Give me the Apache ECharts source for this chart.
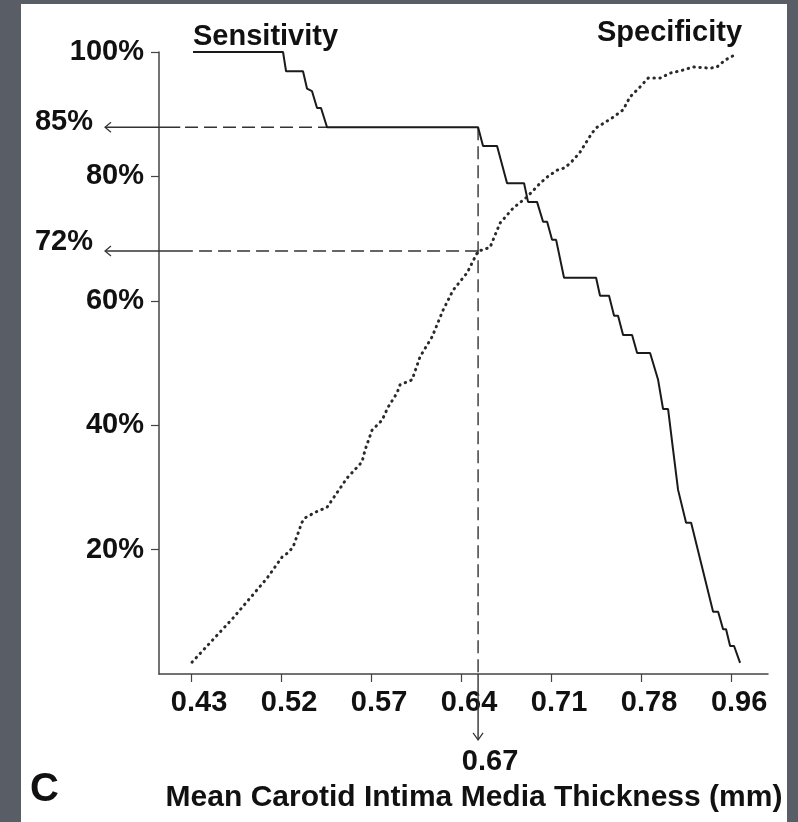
<!DOCTYPE html>
<html>
<head>
<meta charset="utf-8">
<script src="https://cdn.jsdelivr.net/npm/echarts@6/dist/echarts.min.js"></script>
<style>
  html, body { margin: 0; padding: 0; }
  body { width: 798px; height: 822px; background: #595d66; position: relative; overflow: hidden; }
  #chart { position: absolute; left: 21px; top: 4px; width: 766px; height: 818px; background: #fff; }
</style>
</head>
<body>
<div id="chart"></div>
<script>
// x is in tick units: 0 -> 0.43, 1 -> 0.52 ... 6 -> 0.96 (ticks are evenly spaced)
var xTickLabels = ['0.43', '0.52', '0.57', '0.64', '0.71', '0.78', '0.96'];
var xTickValues = [0, 1, 2, 3, 4, 5, 6];
var yTickValues = [20, 40, 60, 80, 100];

var sensitivityX = [0.022, 1.022, 1.056, 1.244, 1.289, 1.344, 1.4, 1.444, 1.511, 3.189, 3.244, 3.4, 3.511, 3.7, 3.744, 3.844,
  3.911, 3.956, 4.011, 4.056, 4.144, 4.5, 4.544, 4.644, 4.7, 4.744, 4.8, 4.9, 4.956, 5.1, 5.189, 5.244, 5.3, 5.356,
  5.411, 5.5, 5.556, 5.8, 5.856, 5.911, 5.944, 5.989, 6.033, 6.1];
var sensitivityY = [100, 100, 96.9, 96.9, 94.1, 93.7, 91.0, 91.0, 87.9, 87.9, 84.9, 84.9, 78.9, 78.9, 75.9, 75.9,
  72.7, 72.7, 69.8, 69.8, 63.7, 63.7, 60.8, 60.8, 57.6, 57.6, 54.5, 54.5, 51.6, 51.6, 47.3, 42.6, 42.6, 36.0,
  29.6, 24.3, 24.3, 10.0, 10.0, 7.2, 7.2, 4.5, 4.5, 1.8];

var specificityX = [0.011, 0.467, 0.844, 1.011, 1.078, 1.133, 1.233, 1.267, 1.378, 1.511, 1.733, 1.9, 1.933, 2.011,
  2.122, 2.189, 2.289, 2.322, 2.456, 2.544, 2.678, 2.8, 2.911, 3.067, 3.189, 3.244, 3.322, 3.433, 3.578, 3.733,
  3.878, 3.956, 4.067, 4.156, 4.244, 4.322, 4.456, 4.511, 4.689, 4.8, 4.878, 4.989, 5.078, 5.211, 5.322, 5.467,
  5.578, 5.767, 5.844, 5.933, 6.022];
var specificityY = [1.9, 9.0, 15.4, 18.8, 19.5, 20.4, 24.4, 25.1, 26.0, 26.8, 31.5, 34.1, 36.0, 39.2,
  40.8, 42.9, 45.2, 46.5, 47.3, 51.0, 54.2, 58.5, 61.7, 64.5, 68.0, 68.2, 68.6, 72.5, 74.9, 76.7,
  78.9, 79.9, 81.0, 81.4, 82.6, 83.9, 87.0, 87.9, 89.5, 90.7, 92.8, 94.4, 95.8, 95.8, 96.6, 97.1,
  97.6, 97.4, 97.6, 98.7, 99.4];

// cut-off annotation
var cutoffX = 3.189;
var sensAtCutoff = 87.9;
var specAtCutoff = 68.0;
var arrowTipX = -0.956;   // left arrow tips (outside the axis)
var arrowTipY = -10.6;    // down arrow tip (below the axis)

// segments: x1, y1, x2, y2, dashed
var guideSegments = [
  [arrowTipX, sensAtCutoff, -0.12, sensAtCutoff, 0],
  [-0.067, sensAtCutoff, sensitivityX[8], sensAtCutoff, 1],
  [arrowTipX, specAtCutoff, 0.02, specAtCutoff, 0],
  [0.089, specAtCutoff, cutoffX, specAtCutoff, 1],
  [cutoffX, sensAtCutoff, cutoffX, 0, 1],
  [cutoffX, 0, cutoffX, arrowTipY, 0]
];
var arrowPoints = [[arrowTipX, sensAtCutoff], [arrowTipX, specAtCutoff], [cutoffX, arrowTipY]];
var arrowDirs = ['left', 'left', 'down'];
var arrowLabels = ['85%', '72%', '0.67'];

var curveNames = ['Sensitivity', 'Specificity'];
var curveNamePoints = [
  [sensitivityX[0], sensitivityY[0]],
  [specificityX[specificityX.length - 1], specificityY[specificityY.length - 1]]
];

var FONT = "'Liberation Sans', Arial, Helvetica, sans-serif";
var INK = '#1a1a1a';
var ANN = '#333';
var TXT = '#111';

function pairs(xs, ys) {
  var out = [];
  for (var i = 0; i < xs.length; i++) out.push([xs[i], ys[i]]);
  return out;
}

function textEl(text, x, y, size, align, vAlign) {
  return {
    type: 'text',
    style: { text: text, x: x, y: y, fill: TXT, fontFamily: FONT, fontWeight: 'bold', fontSize: size,
      align: align, verticalAlign: vAlign }
  };
}

var chart = echarts.init(document.getElementById('chart'));
chart.setOption({
  animation: false,
  backgroundColor: '#ffffff',
  title: {
    text: 'C', left: 4, top: 761,
    textStyle: { fontFamily: FONT, fontWeight: 'bold', fontSize: 40, color: TXT }
  },
  grid: { left: 138, right: 19, top: 48, bottom: 148 },
  xAxis: {
    type: 'value', min: -0.356, max: 6.41,
    name: 'Mean Carotid Intima Media Thickness (mm)',
    nameLocation: 'middle', nameGap: 109,
    nameTextStyle: { fontFamily: FONT, fontWeight: 'bold', fontSize: 30, color: TXT, padding: [0, 0, 0, 21] },
    axisLine: { onZero: false, lineStyle: { color: '#444', width: 1.5 } },
    axisTick: { customValues: xTickValues, length: 8, lineStyle: { color: '#444', width: 1.2 } },
    axisLabel: {
      customValues: xTickValues, margin: 14, padding: [0, 0, 0, 16],
      formatter: function (v) { return xTickLabels[Math.round(v)]; },
      fontFamily: FONT, fontWeight: 'bold', fontSize: 29, color: TXT
    },
    splitLine: { show: false }
  },
  yAxis: {
    type: 'value', min: 0, max: 100,
    axisLine: { show: true, onZero: false, lineStyle: { color: '#444', width: 1.5 } },
    axisTick: { show: true, customValues: yTickValues, length: 8, lineStyle: { color: '#444', width: 1.2 } },
    axisLabel: {
      customValues: yTickValues, margin: 15, padding: [0, 0, 8, 0],
      formatter: function (v) { return v + '%'; },
      fontFamily: FONT, fontWeight: 'bold', fontSize: 29, color: TXT
    },
    splitLine: { show: false }
  },
  series: [
    {
      name: 'Sensitivity', type: 'line', data: pairs(sensitivityX, sensitivityY),
      symbol: 'none', lineStyle: { color: INK, width: 2 }, z: 4
    },
    {
      name: 'Specificity', type: 'line', data: pairs(specificityX, specificityY),
      symbol: 'none', lineStyle: { color: '#2a2a2a', width: 3, type: [0.5, 5.5], cap: 'round' }, z: 4
    },
    {
      // cut-off guide lines
      type: 'custom', silent: true, clip: false, z: 3,
      data: guideSegments,
      renderItem: function (params, api) {
        var a = api.coord([api.value(0), api.value(1)]);
        var b = api.coord([api.value(2), api.value(3)]);
        return {
          type: 'line',
          shape: { x1: a[0], y1: a[1], x2: b[0], y2: b[1] },
          style: { stroke: ANN, lineWidth: 1.4, lineDash: api.value(4) ? [13, 6] : null, fill: null }
        };
      }
    },
    {
      // arrow heads and their values
      type: 'custom', silent: true, clip: false, z: 3,
      data: arrowPoints,
      renderItem: function (params, api) {
        var p = api.coord([api.value(0), api.value(1)]);
        var i = params.dataIndex;
        var head, label;
        if (arrowDirs[i] === 'left') {
          head = [[p[0] + 6, p[1] - 5], [p[0], p[1]], [p[0] + 6, p[1] + 5]];
          label = textEl(arrowLabels[i], p[0] - 12, p[1] - (i === 0 ? 5 : 9), 29, 'right', 'middle');
        } else {
          head = [[p[0] - 5, p[1] - 7], [p[0], p[1]], [p[0] + 5, p[1] - 7]];
          label = textEl(arrowLabels[i], p[0] + 12, p[1] + 7.5, 29, 'center', 'top');
        }
        return {
          type: 'group',
          children: [
            { type: 'polyline', shape: { points: head }, style: { stroke: ANN, lineWidth: 1.2, fill: null } },
            label
          ]
        };
      }
    },
    {
      // curve names
      type: 'custom', silent: true, clip: false, z: 3,
      data: curveNamePoints,
      renderItem: function (params, api) {
        var p = api.coord([api.value(0), api.value(1)]);
        if (params.dataIndex === 0) {
          return textEl(curveNames[0], p[0], p[1] - 0.5, 29, 'left', 'bottom');
        }
        return textEl(curveNames[1], p[0] + 9, p[1] - 8.5, 29, 'right', 'bottom');
      }
    }
  ]
});
</script>
</body>
</html>
